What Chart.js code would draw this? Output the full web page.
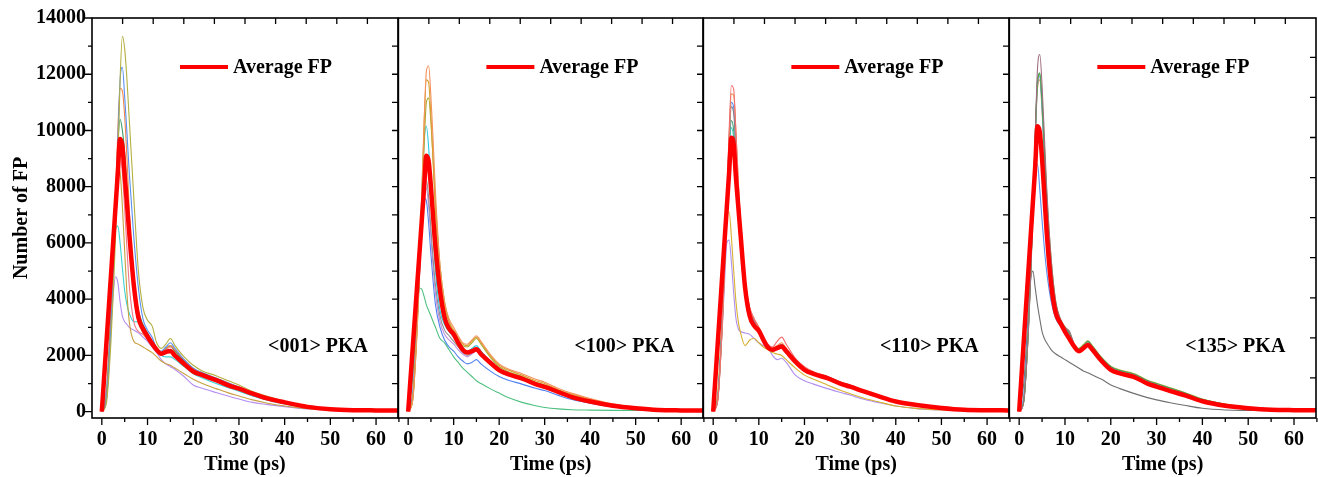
<!DOCTYPE html>
<html>
<head>
<meta charset="utf-8">
<script src="https://cdn.jsdelivr.net/npm/chart.js@4.4.1/dist/chart.umd.min.js"></script>
<style>
  body { margin: 0; background: #fff; }
  #wrap { position: relative; width: 1318px; height: 477px; overflow: hidden; }
  #wrap canvas { position: absolute; top: 0; }
</style>
</head>
<body>
<div id="wrap">
  <canvas id="c1" width="400" height="477" style="left:0px"></canvas>
  <canvas id="c2" width="312" height="477" style="left:393px"></canvas>
  <canvas id="c3" width="313" height="477" style="left:698px"></canvas>
  <canvas id="c4" width="314" height="477" style="left:1004px"></canvas>
</div>
<script>
// time axis (ps) shared by every curve
const times = [0, 1, 2, 2.5, 3, 3.5, 4, 4.5, 5, 5.5, 6, 7, 8, 9, 10, 11, 12, 13, 14, 15, 16, 18, 20, 22, 25, 28, 30, 33, 36, 40, 45, 50, 55, 60, 65];
const xTicks = [0, 10, 20, 30, 40, 50, 60];
const yTicks = [0, 2000, 4000, 6000, 8000, 10000, 12000, 14000];
const rightTicks = [1000, 2000, 3000, 4000, 5000, 6000, 7000, 8000, 9000, 10000, 11000, 12000, 13000];
const rightTicks135 = [12600, 11175, 9750, 8325, 6900, 5475, 4050, 2625, 1200];

// <001>
const avg001 = [0, 2430, 4850, 6060, 7280, 8500, 9700, 9450, 8400, 7400, 6350, 4500, 3350, 2950, 2680, 2420, 2200, 2060, 2120, 2160, 1990, 1700, 1430, 1300, 1120, 920, 820, 640, 480, 330, 170, 90, 55, 45, 40];
const olive001 = [0, 300, 2500, 4200, 6200, 8800, 11800, 13350, 12900, 11800, 10400, 7600, 5000, 3700, 3250, 3050, 2450, 2250, 2400, 2600, 2350, 1950, 1650, 1450, 1280, 1080, 950, 720, 560, 360, 190, 100, 60, 45, 40];
const blue001 = [0, 400, 3000, 4800, 7000, 9600, 11800, 12250, 11200, 9900, 8500, 6200, 4400, 3300, 2900, 2650, 2250, 2150, 2300, 2450, 2250, 1850, 1550, 1380, 1200, 1000, 880, 680, 520, 340, 180, 95, 55, 45, 40];
const orange001 = [0, 450, 3200, 5200, 7600, 10000, 11500, 11400, 10500, 9000, 7200, 4200, 3200, 2800, 2550, 2380, 2150, 2100, 2250, 2350, 2200, 1850, 1550, 1380, 1200, 1000, 870, 680, 520, 340, 180, 95, 55, 45, 40];
const green001 = [0, 500, 3300, 5300, 7500, 9500, 10400, 10000, 9200, 7900, 6600, 4700, 3600, 3100, 2800, 2500, 2200, 2100, 2250, 2350, 2150, 1800, 1500, 1350, 1170, 980, 860, 670, 510, 340, 180, 95, 55, 45, 40];
const pink001 = [0, 500, 3300, 5200, 7200, 8700, 9100, 8500, 7200, 5800, 4500, 3200, 2850, 2750, 2600, 2400, 2150, 2050, 2200, 2300, 2150, 1800, 1500, 1350, 1170, 980, 860, 670, 510, 340, 180, 95, 55, 45, 40];
const gold001 = [0, 600, 3500, 5400, 7400, 8700, 8500, 7300, 5700, 4200, 3200, 2500, 2400, 2300, 2200, 2100, 1950, 1800, 1700, 1650, 1550, 1350, 1150, 1000, 820, 650, 560, 420, 310, 200, 110, 65, 45, 40, 40];
const cyan001 = [0, 700, 3500, 5200, 6500, 6600, 6000, 5100, 4300, 3800, 3500, 3200, 3200, 2800, 2600, 2400, 2150, 2000, 1950, 1950, 1850, 1600, 1350, 1200, 1000, 830, 730, 560, 420, 270, 140, 75, 50, 40, 40];
const purple001 = [0, 800, 3000, 4200, 4800, 4600, 3900, 3400, 3200, 3100, 3000, 2900, 2800, 2650, 2500, 2300, 2100, 1850, 1700, 1600, 1500, 1250, 950, 830, 680, 540, 450, 330, 260, 180, 100, 60, 45, 40, 40];

// <100>
const avg100 = [0, 2270, 4550, 5680, 6820, 7960, 9100, 8900, 8000, 6900, 5850, 4300, 3350, 2950, 2750, 2450, 2200, 2100, 2150, 2220, 2050, 1750, 1480, 1330, 1180, 980, 880, 700, 520, 360, 210, 120, 60, 45, 40];
const orange100 = [0, 400, 3000, 5000, 7500, 10200, 12100, 12300, 11200, 9600, 7800, 5200, 3900, 3300, 3000, 2700, 2450, 2400, 2550, 2700, 2500, 2050, 1700, 1520, 1350, 1150, 1050, 820, 650, 470, 280, 150, 80, 50, 40];
const gold100 = [0, 450, 3200, 5300, 7800, 10300, 11800, 11700, 10500, 8800, 7100, 4800, 3700, 3200, 2900, 2650, 2400, 2350, 2500, 2650, 2450, 2000, 1650, 1480, 1300, 1100, 1000, 780, 620, 440, 260, 140, 75, 50, 40];
const olive100 = [0, 400, 3000, 4900, 7100, 9400, 11000, 11150, 10300, 8900, 7400, 5200, 3900, 3200, 2800, 2550, 2350, 2300, 2450, 2600, 2400, 1950, 1600, 1420, 1250, 1050, 950, 740, 580, 410, 240, 130, 70, 45, 40];
const cyan100 = [0, 500, 3400, 5500, 7800, 9600, 10150, 9400, 7900, 6300, 5000, 3600, 3100, 2850, 2650, 2450, 2250, 2150, 2250, 2350, 2150, 1800, 1500, 1350, 1200, 1000, 900, 700, 530, 370, 220, 120, 65, 45, 40];
const grey100 = [0, 600, 3300, 5100, 6900, 8100, 8250, 7600, 6500, 5400, 4500, 3400, 2900, 2700, 2500, 2300, 2100, 2000, 2100, 2200, 2050, 1750, 1450, 1300, 1150, 960, 860, 670, 500, 350, 200, 110, 60, 45, 40];
const violet100 = [0, 600, 3200, 4900, 6700, 7800, 7950, 7300, 6200, 5100, 4200, 3200, 2750, 2550, 2400, 2200, 2050, 1950, 2050, 2150, 2000, 1700, 1420, 1280, 1130, 940, 840, 650, 490, 340, 195, 105, 60, 45, 40];
const blue100 = [0, 650, 3300, 5000, 6700, 7600, 7500, 6700, 5600, 4600, 3800, 3000, 2550, 2300, 2150, 1950, 1800, 1700, 1750, 1850, 1700, 1450, 1250, 1120, 980, 830, 750, 580, 430, 300, 170, 95, 55, 45, 40];
const green100 = [0, 1200, 3800, 4400, 4350, 4100, 3800, 3600, 3400, 3200, 3000, 2600, 2450, 2200, 1950, 1750, 1550, 1400, 1250, 1100, 1000, 820, 660, 500, 330, 210, 150, 100, 70, 55, 45, 40, 40, 40, 40];

// <110>
const avg110 = [0, 2430, 4870, 6090, 7300, 8520, 9740, 9500, 8300, 7300, 6300, 4400, 3400, 3050, 2880, 2550, 2280, 2200, 2260, 2320, 2150, 1780, 1490, 1340, 1190, 990, 890, 720, 560, 360, 230, 130, 65, 50, 45];
const pink110 = [0, 400, 3100, 5100, 7600, 10000, 11600, 11450, 9900, 8200, 6600, 4600, 3700, 3300, 3000, 2700, 2400, 2300, 2500, 2650, 2400, 1900, 1600, 1420, 1250, 1040, 930, 750, 580, 380, 240, 135, 70, 50, 45];
const orange110 = [0, 400, 3000, 5000, 7400, 9800, 11300, 11250, 9900, 8200, 6700, 4700, 3700, 3300, 3000, 2650, 2350, 2250, 2350, 2450, 2250, 1850, 1560, 1400, 1240, 1040, 930, 750, 580, 380, 240, 135, 70, 50, 45];
const grey110 = [0, 450, 3200, 5200, 7500, 9600, 10850, 10600, 9300, 7700, 6200, 4500, 3600, 3250, 2950, 2600, 2300, 2200, 2300, 2400, 2250, 1850, 1550, 1400, 1250, 1050, 950, 760, 590, 390, 245, 135, 70, 50, 45];
const blue110 = [0, 420, 3150, 5150, 7450, 9700, 11000, 10800, 9400, 7800, 6300, 4500, 3550, 3200, 2900, 2580, 2280, 2180, 2280, 2380, 2200, 1830, 1530, 1380, 1230, 1030, 930, 740, 575, 380, 240, 132, 68, 50, 45];
const green110 = [0, 450, 3300, 5300, 7500, 9400, 10350, 10000, 8800, 7300, 5900, 4300, 3450, 3100, 2850, 2500, 2250, 2150, 2250, 2350, 2150, 1800, 1500, 1360, 1200, 1010, 910, 730, 570, 370, 235, 130, 68, 50, 45];
const cyan110 = [0, 480, 3350, 5350, 7450, 9250, 10100, 9700, 8500, 7000, 5700, 4200, 3400, 3100, 2850, 2520, 2260, 2160, 2240, 2330, 2140, 1790, 1500, 1350, 1200, 1000, 900, 725, 565, 368, 232, 130, 68, 50, 45];
const gold110 = [0, 700, 3500, 5400, 7000, 7100, 6200, 5000, 3900, 3200, 2800, 2350, 2550, 2600, 2450, 2300, 2200, 2100, 2050, 2000, 1850, 1550, 1300, 1150, 950, 750, 640, 480, 360, 200, 110, 65, 50, 45, 45];
const violet110 = [0, 600, 3000, 4600, 6000, 6100, 5300, 4200, 3300, 2950, 2850, 2800, 2750, 2600, 2450, 2350, 2250, 2000, 1850, 1900, 1750, 1300, 1100, 980, 820, 680, 590, 440, 330, 200, 100, 60, 45, 45, 45];

// <135>
const avg135 = [0, 2490, 4980, 6220, 7460, 8710, 10150, 9950, 9000, 7700, 6400, 4500, 3500, 3150, 2850, 2580, 2320, 2150, 2250, 2370, 2200, 1800, 1490, 1360, 1240, 1000, 890, 730, 590, 370, 210, 125, 70, 55, 50];
const mauve135 = [0, 350, 2800, 4700, 7000, 9800, 12200, 12700, 11600, 9800, 8000, 5400, 3900, 3300, 3000, 2850, 2400, 2200, 2300, 2450, 2300, 1880, 1560, 1420, 1300, 1060, 950, 790, 640, 410, 240, 140, 80, 60, 55];
const green135 = [0, 380, 2900, 4900, 7200, 9800, 11800, 12050, 11000, 9300, 7600, 5200, 3800, 3250, 3000, 2800, 2380, 2230, 2350, 2500, 2320, 1910, 1600, 1460, 1340, 1100, 990, 830, 670, 440, 260, 155, 88, 60, 53];
const olive135 = [0, 360, 2850, 4800, 7100, 9700, 11700, 12000, 11100, 9500, 7800, 5400, 3900, 3300, 3020, 2820, 2400, 2250, 2380, 2520, 2340, 1930, 1620, 1480, 1360, 1120, 1010, 850, 690, 450, 270, 160, 90, 62, 55];
const cyan135 = [0, 400, 2950, 4950, 7250, 9750, 11650, 11950, 10900, 9200, 7500, 5100, 3750, 3200, 2980, 2780, 2370, 2190, 2290, 2440, 2270, 1860, 1545, 1405, 1285, 1045, 935, 775, 625, 398, 232, 136, 76, 57, 51];
const violet135 = [0, 370, 2880, 4850, 7150, 9650, 11600, 11900, 10800, 9100, 7400, 5000, 3700, 3150, 2950, 2760, 2350, 2180, 2280, 2420, 2260, 1850, 1540, 1400, 1280, 1040, 930, 770, 620, 395, 230, 135, 75, 56, 50];
const orange135 = [0, 390, 2920, 4900, 7200, 9700, 11500, 11800, 10700, 9000, 7300, 4950, 3650, 3150, 2950, 2750, 2350, 2170, 2270, 2410, 2250, 1850, 1535, 1395, 1275, 1040, 930, 770, 620, 395, 230, 135, 75, 56, 50];
const blue135 = [0, 600, 3300, 5200, 7200, 8700, 8800, 7900, 6800, 5800, 5000, 3900, 3300, 3050, 2900, 2650, 2300, 2150, 2250, 2380, 2220, 1820, 1510, 1380, 1260, 1020, 910, 750, 600, 380, 220, 130, 72, 56, 50];
const grey135 = [0, 1000, 3500, 4700, 5000, 4400, 3800, 3300, 2850, 2600, 2450, 2200, 2050, 1950, 1850, 1750, 1650, 1550, 1450, 1380, 1300, 1150, 950, 820, 650, 500, 420, 320, 230, 120, 60, 45, 40, 40, 40];

const SERIF = '"Liberation Serif", "Times New Roman", serif';

const panels = [
  { id: 'c1', name: '<001> PKA', avg: avg001, right: rightTicks, pad: [0, 2], first: true,
    runs: [[olive001, '#b4b040'], [blue001, '#5a8ef0'], [orange001, '#f0884a'], [green001, '#3a9a66'],
           [pink001, '#f07a8a'], [gold001, '#c8a040'], [cyan001, '#3cd2d2'], [purple001, '#b48ef0']] },
  { id: 'c2', name: '<100> PKA', avg: avg100, right: rightTicks, pad: [0, 2],
    runs: [[orange100, '#f4925a'], [gold100, '#d8a030'], [olive100, '#a8a830'], [cyan100, '#30c8e0'],
           [grey100, '#909090'], [violet100, '#c090e0'], [blue100, '#5080f0'], [green100, '#50c080']] },
  { id: 'c3', name: '<110> PKA', avg: avg110, right: rightTicks, pad: [0, 2],
    runs: [[pink110, '#f07070'], [orange110, '#f09050'], [grey110, '#808090'], [blue110, '#5a8ef0'],
           [green110, '#40a070'], [cyan110, '#40d0c8'], [gold110, '#d8b030'], [violet110, '#b090f0']] },
  { id: 'c4', name: '<135> PKA', avg: avg135, right: rightTicks135, pad: [0, 2],
    runs: [[mauve135, '#a07080'], [green135, '#40a060'], [olive135, '#a8a830'], [cyan135, '#40c8d0'],
           [violet135, '#b090f0'], [orange135, '#e09040'], [blue135, '#5a8ef0'], [grey135, '#707070']] }
];

function pts(arr) {
  return times.map((t, i) => ({ x: t, y: arr[i] }));
}

// frame, inner/outer tick marks, legend and PKA label
const decor = {
  id: 'decor',
  afterDraw(chart, args, o) {
    const { ctx, chartArea: a, scales } = chart;
    const x = scales.x, y = scales.y, top = scales.top;
    ctx.save();
    ctx.strokeStyle = '#000';
    ctx.lineWidth = 1.6;
    ctx.strokeRect(a.left, a.top, a.right - a.left, a.bottom - a.top);
    ctx.lineWidth = 1.3;
    ctx.beginPath();
    for (let v = 0; v <= 65; v += 5) {
      const px = x.getPixelForValue(v);
      ctx.moveTo(px, a.bottom);
      ctx.lineTo(px, a.bottom + (v % 10 ? 4 : 7));
    }
    for (let v = 1; v < 10; v++) {
      const px = top.getPixelForValue(v);
      ctx.moveTo(px, a.top);
      ctx.lineTo(px, a.top + 6);
    }
    o.right.forEach(v => {
      const py = y.getPixelForValue(v);
      ctx.moveTo(a.right, py);
      ctx.lineTo(a.right - 6, py);
    });
    if (o.first) {
      for (let v = 0; v <= 14000; v += 1000) {
        const py = y.getPixelForValue(v);
        ctx.moveTo(a.left, py);
        ctx.lineTo(a.left - (v % 2000 ? 4 : 7), py);
      }
    }
    ctx.stroke();

    // legend
    ctx.strokeStyle = '#ff0000';
    ctx.lineWidth = 4;
    ctx.beginPath();
    ctx.moveTo(a.left + 88, 67);
    ctx.lineTo(a.left + 136, 67);
    ctx.stroke();
    ctx.fillStyle = '#000';
    ctx.font = 'bold 20px ' + SERIF;
    ctx.textBaseline = 'middle';
    ctx.textAlign = 'left';
    ctx.fillText('Average FP', a.left + 141, 68);
    ctx.textAlign = 'center';
    ctx.fillText(o.name, a.left + 226, 347);
    ctx.restore();
  }
};

panels.forEach(p => {
  const datasets = [{
    data: pts(p.avg), borderColor: '#ff0000', borderWidth: 4.5, order: 0
  }].concat(p.runs.map(r => ({
    data: pts(r[0]), borderColor: r[1], borderWidth: 1.1, order: 1
  })));
  datasets.forEach(d => {
    d.pointRadius = 0;
    d.fill = false;
    d.cubicInterpolationMode = 'monotone';
  });

  new Chart(document.getElementById(p.id), {
    type: 'line',
    data: { datasets: datasets },
    options: {
      responsive: false,
      animation: false,
      layout: { padding: { left: p.pad[0], right: p.pad[1], top: 18, bottom: 0 } },
      plugins: {
        legend: { display: false },
        tooltip: { enabled: false },
        decor: { name: p.name, right: p.right, first: !!p.first }
      },
      scales: {
        x: {
          type: 'linear', min: -2.15, max: 64.8,
          afterBuildTicks: s => { s.ticks = xTicks.map(v => ({ value: v })); },
          afterFit: s => { s.height = 59; },
          grid: { display: false, drawTicks: false },
          border: { display: false },
          ticks: { autoSkip: false, maxRotation: 0, padding: 10, color: '#000',
                   font: { family: SERIF, size: 20, weight: 'bold' } },
          title: { display: true, text: 'Time (ps)', color: '#000', padding: { top: 0, bottom: 0 },
                   font: { family: SERIF, size: 20, weight: 'bold' } }
        },
        top: { type: 'linear', position: 'top', display: false, min: 0, max: 10 },
        y: {
          display: !!p.first,
          min: -225, max: 14000,
          afterBuildTicks: s => { s.ticks = yTicks.map(v => ({ value: v })); },
          afterFit: s => { s.width = p.first ? 92 : 0; },
          grid: { display: false, drawTicks: false },
          border: { display: false },
          ticks: { padding: 6, color: '#000', callback: v => String(v),
                   font: { family: SERIF, size: 20, weight: 'bold' } },
          title: { display: true, text: 'Number of FP', color: '#000', padding: { top: 10, bottom: 0 },
                   font: { family: SERIF, size: 20, weight: 'bold' } }
        }
      }
    },
    plugins: [decor]
  });
});
</script>
</body>
</html>
